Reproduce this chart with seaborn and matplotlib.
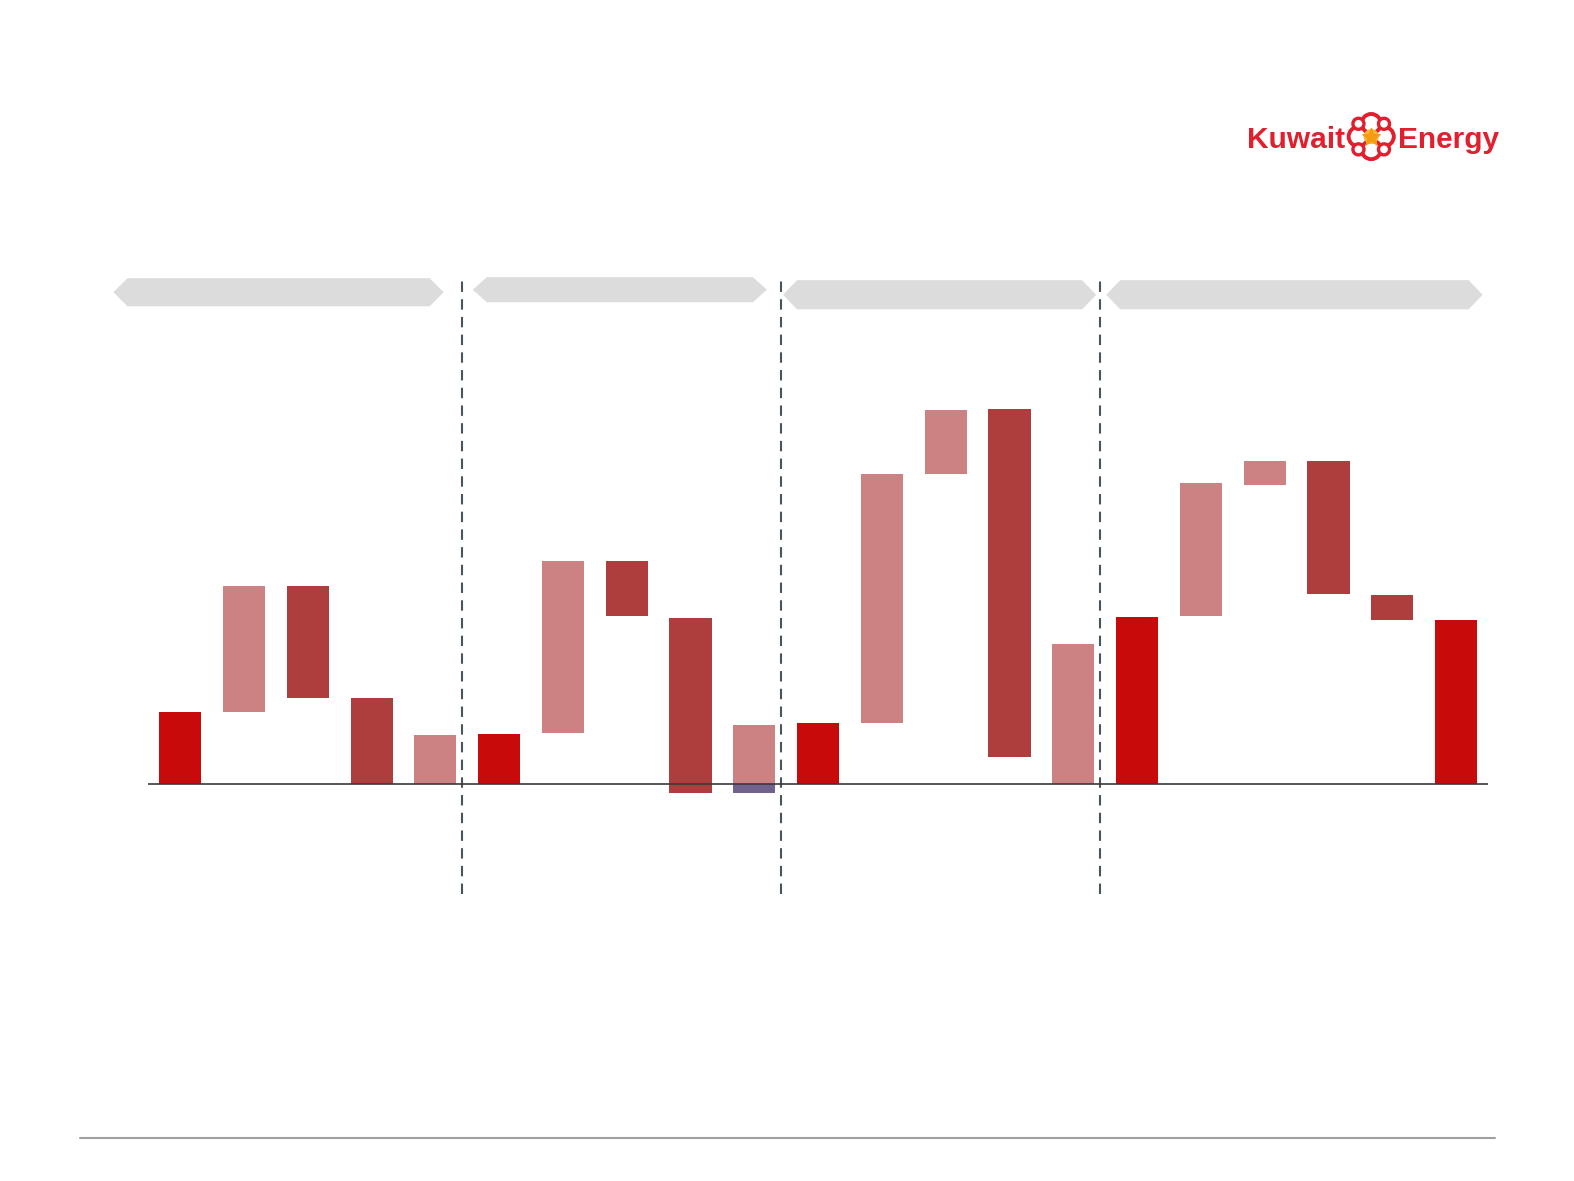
import matplotlib
matplotlib.use("Agg")
import matplotlib.pyplot as plt
from matplotlib.patches import Polygon, Circle
import numpy as np
import pandas as pd
import seaborn as sns

# ---------------- data ----------------
bar_index = list(range(21))
bar_kind = ["total", "up", "down", "down", "up",
            "total", "up", "down", "down", "up",
            "total", "up", "up", "down", "up",
            "total", "up", "up", "down", "down", "total"]
bar_bottom = [0, 72, 86, 0, 0,
              0, 51, 167, -9, 0,
              0, 61, 309, 27, 0,
              0, 167, 298, 189, 163, 0]
bar_height = [72, 125, 111, 86, 49,
              50, 171, 55, 174, 59,
              61, 248, 64, 347, 139,
              166, 133, 24, 133, 25, 163]
# small negative part under bar 10
extra_index = [9]
extra_bottom = [-9]
extra_height = [9]
group_last_bar = [4, 9, 14]

kind_colors = {"total": "#C90A0A", "up": "#CC8282", "down": "#AE3E3E"}
extra_color = "#6F5A94"

# ---------------- figure ----------------
sns.set_theme(style="white")
plt.rcParams["font.family"] = ["Liberation Sans", "DejaVu Sans"]

W, H = 1574, 1181
fig = plt.figure(figsize=(W / 100, H / 100), dpi=100)
s = W / 1568.0  # display -> full pixel scale

# overlay axes for decorations (display-pixel coords of the 1568x1176 view)
ov = fig.add_axes([0, 0, 1, 1])
ov.set_xlim(0, 1568)
ov.set_ylim(1176, 0)
ov.axis("off")
ov.patch.set_alpha(0)

# banners
banners = [(113, 442, 277, 305), (471, 764, 276, 301),
           (780, 1092, 279, 308), (1102, 1477, 279, 308)]
d = 14
for x0, x1, y0, y1 in banners:
    ym = (y0 + y1) / 2
    poly = Polygon([(x0, ym), (x0 + d, y0), (x1 - d, y0), (x1, ym),
                    (x1 - d, y1), (x0 + d, y1)], closed=True,
                   facecolor="#DCDCDC", edgecolor="none")
    ov.add_patch(poly)

# bottom rule
ov.plot([80, 1489], [1133, 1133], color="#A0A0A0", lw=1.5)

# logo
logo_red = "#E0202E"
ov.text(1340, 147, "Kuwait", ha="right", va="baseline", fontsize=21.5,
        fontweight="bold", color=logo_red)
ov.text(1393, 147, "Energy", ha="left", va="baseline", fontsize=21.5,
        fontweight="bold", color=logo_red)
cx, cy = 1366, 136
for ang in [0, 90, 180, 270]:
    a = np.deg2rad(ang)
    ov.add_patch(Circle((cx + 13 * np.cos(a), cy + 13 * np.sin(a)), 9.5,
                        facecolor="white", edgecolor=logo_red, lw=2.8))
for ang in [45, 135, 225, 315]:
    a = np.deg2rad(ang)
    ov.add_patch(Circle((cx + 18 * np.cos(a), cy + 18 * np.sin(a)), 5.5,
                        facecolor="white", edgecolor=logo_red, lw=2.4))
ov.add_patch(Circle((cx, cy), 7.5, facecolor="#F7B733", edgecolor="none"))
ov.scatter([cx], [cy], marker="*", s=170, color="#F39C12", zorder=5)

# ---------------- main chart axes ----------------
c0 = 179.5 * s
dx = (1450.5 - 179.5) / 20 * s
left_px, right_px = 147 * s, 1482 * s
top_px, bot_px = 250.0, 950.0
base_px = 781 * s

ax = fig.add_axes([left_px / W, 1 - bot_px / H,
                   (right_px - left_px) / W, (bot_px - top_px) / H])
ax.patch.set_alpha(0)

df = pd.DataFrame({"x": bar_index, "h": bar_height, "b": bar_bottom})
sns.barplot(data=df, x="x", y="h", bottom=df["b"].values, native_scale=True,
            width=0.66, errorbar=None, color="#C90A0A", linewidth=0,
            ax=ax, zorder=2)
for patch, k in zip(ax.patches, bar_kind):
    patch.set_facecolor(kind_colors[k])
    patch.set_edgecolor("none")

df2 = pd.DataFrame({"x": extra_index, "h": extra_height, "b": extra_bottom})
sns.barplot(data=df2, x="x", y="h", bottom=df2["b"].values, native_scale=True,
            width=0.66, errorbar=None, color=extra_color, linewidth=0,
            ax=ax, zorder=2)

ax.set_xlim((left_px - c0) / dx, (right_px - c0) / dx)
ax.set_ylim((base_px - bot_px) / s, (base_px - top_px) / s)
ax.axhline(0, color="#3A3A3A", lw=1.2, zorder=4)
for g in group_last_bar:
    ax.vlines(g + 0.42, -110, 507, colors="#46565A", linestyles=(0, (5, 3.5)),
              lw=1.5, zorder=3)
ax.axis("off")

fig.savefig("out.png", dpi=100)
